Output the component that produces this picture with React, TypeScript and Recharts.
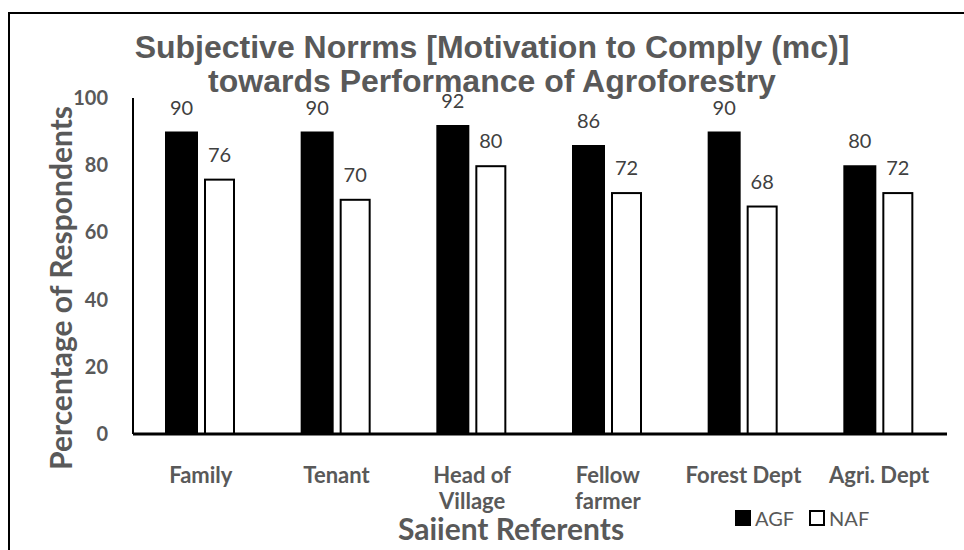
import React from 'react';
import { BarChart, Bar, XAxis, YAxis, LabelList, Legend } from 'recharts';

const referents = ['Family', 'Tenant', 'Head of\nVillage', 'Fellow\nfarmer', 'Forest Dept', 'Agri. Dept'];
const agf = [90, 90, 92, 86, 90, 80];
const naf = [76, 70, 80, 72, 68, 72];
const yTicks = [0, 20, 40, 60, 80, 100];

const data = referents.map((name, i) => ({ name, AGF: agf[i], NAF: naf[i] }));

const GREY = '#595959';

const XTick = ({ x, y, payload }: any) => {
  const lines = String(payload.value).split('\n');
  return (
    <text x={x} y={y} textAnchor="middle" fill={GREY} fontFamily="Lato" fontWeight={700} fontSize={22}>
      {lines.map((l, i) => (
        <tspan key={i} x={x} dy={i === 0 ? 49 : 26}>{l}</tspan>
      ))}
    </text>
  );
};

const YTick = ({ x, y, payload }: any) => (
  <text x={x} y={y} dy={7} textAnchor="end" fill={GREY} fontFamily="Lato" fontWeight={700} fontSize={20}>
    {payload.value}
  </text>
);

// white bars look a little narrower than the black ones in the original
const NafShape = (p: any) => (
  <rect x={p.x + 2} y={p.y + 1} width={p.width - 4} height={p.height - 1} fill="#fff" stroke="#000" strokeWidth={2} />
);

const LegendBox = ({ payload }: any) => (
  <div style={{ display: 'flex', alignItems: 'center', fontFamily: 'Lato', fontSize: 20, color: GREY }}>
    {(payload || []).map((e: any, i: number) => (
      <span key={i} style={{ display: 'flex', alignItems: 'center', marginRight: 15 }}>
        <span style={{ width: 12, height: 12, background: e.value === 'AGF' ? '#000' : '#fff', border: '2px solid #000', marginRight: 4, boxSizing: 'content-box' }} />
        {e.value}
      </span>
    ))}
  </div>
);

export default function App() {
  return (
    <div style={{ position: 'fixed', left: 0, top: 0, width: 964, height: 550, background: '#fff', overflow: 'hidden' }}>
      <BarChart width={964} height={550} data={data} margin={{ top: 98, right: 17, bottom: 0, left: 0 }} barGap={5} barSize={33}>
        <XAxis dataKey="name" height={116} axisLine={{ stroke: '#000', strokeWidth: 3 }} tickLine={false} tickSize={0} tickMargin={0} tick={<XTick />} interval={0} />
        <YAxis width={133} domain={[0, 100]} ticks={yTicks} axisLine={{ stroke: '#000', strokeWidth: 2 }} tickLine={false} tickSize={0} tickMargin={25} tick={<YTick />} />
        <Legend layout="vertical" align="center" verticalAlign="middle" content={<LegendBox />} wrapperStyle={{ left: 735, top: 506, width: 'auto' }} />
        <Bar dataKey="AGF" name="AGF" fill="#000" isAnimationActive={false}>
          <LabelList dataKey="AGF" position="top" offset={17} fill="#404040" fontFamily="Lato" fontSize={20} />
        </Bar>
        <Bar dataKey="NAF" name="NAF" fill="#fff" stroke="#000" shape={<NafShape />} isAnimationActive={false}>
          <LabelList dataKey="NAF" position="top" offset={17} fill="#404040" fontFamily="Lato" fontSize={20} />
        </Bar>
      </BarChart>
      <svg width={964} height={550} style={{ position: 'absolute', left: 0, top: 0, pointerEvents: 'none' }}>
        <path d="M9,550 V13 H964" fill="none" stroke="#000" strokeWidth={2} />
        <text x={492} textAnchor="middle" fill={GREY} fontFamily="Liberation Sans" fontWeight={700} fontSize={32}>
          <tspan x={492} y={58}>Subjective Norrms [Motivation to Comply (mc)]</tspan>
          <tspan x={492} y={92}>towards Performance of Agroforestry</tspan>
        </text>
        <text transform="translate(72,288) rotate(-90)" textAnchor="middle" fill={GREY} fontFamily="Lato" fontWeight={700} fontSize={30}>
          Percentage of Respondents
        </text>
        <text x={511} y={540} textAnchor="middle" fill={GREY} fontFamily="Lato" fontWeight={700} fontSize={30}>
          Saiient Referents
        </text>
      </svg>
    </div>
  );
}
